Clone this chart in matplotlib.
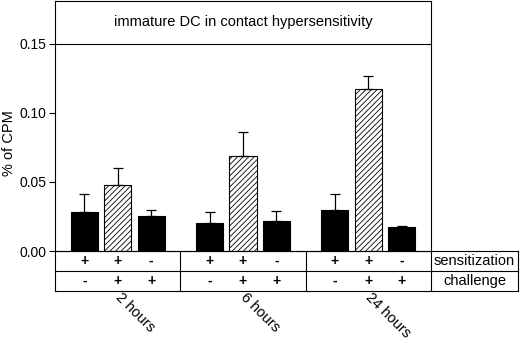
import matplotlib
matplotlib.use("Agg")
import matplotlib.pyplot as plt
import matplotlib.transforms as mtransforms

plt.rcParams['font.family'] = ['Liberation Sans', 'DejaVu Sans']
plt.rcParams['hatch.linewidth'] = 0.6

# data
groups = ['2 hours', '6 hours', '24 hours']
values = [[0.028, 0.048, 0.025],
          [0.0205, 0.069, 0.0217],
          [0.0295, 0.117, 0.0172]]
errors = [[0.013, 0.012, 0.005],
          [0.008, 0.017, 0.007],
          [0.0115, 0.010, 0.0011]]
sensitization = ['+', '+', '-']
challenge = ['-', '+', '+']
title = 'immature DC in contact hypersensitivity'

fig = plt.figure(figsize=(5.2, 3.48), dpi=100)
ax = fig.add_axes([0.1058, 0.2787, 0.7230, 0.7183])

offsets = [-0.8, 0.0, 0.8]
width = 0.65
for g in range(len(groups)):
    c = g * 3 + 1.5
    for k in range(3):
        x = c + offsets[k]
        hatched = (k == 1)
        ax.bar(x, values[g][k], width=width,
               color='white' if hatched else 'black',
               edgecolor='black', linewidth=0.8,
               hatch='//////' if hatched else None, zorder=2)
        ax.errorbar(x, values[g][k], yerr=[[0], [errors[g][k]]],
                    fmt='none', ecolor='black', elinewidth=0.9,
                    capsize=3.8, capthick=0.9, zorder=3)

ax.set_xlim(0, 9)
ax.set_ylim(0, 0.181)
ax.set_yticks([0.0, 0.05, 0.10, 0.15])
ax.set_yticklabels(['0.00', '0.05', '0.10', '0.15'], fontsize=10)
ax.tick_params(axis='y', direction='out', length=4.3, width=0.8, pad=2)
ax.set_xticks([])
for s in ax.spines.values():
    s.set_linewidth(0.8)
ax.set_ylabel('% of CPM', fontsize=10.5)
ax.yaxis.set_label_coords(-0.103, 0.43)

# title box inside the top of the plot
ax.axhline(0.15, color='black', linewidth=0.8)
ax.text(4.5, 0.1655, title, ha='center', va='center', fontsize=10.5)

# table below the axis
tr = mtransforms.blended_transform_factory(ax.transData, ax.transAxes)
rh = 0.08
xr = 11.08
lkw = dict(color='black', linewidth=0.8, transform=tr, clip_on=False)
ax.plot([0, xr], [0, 0], **lkw)
ax.plot([0, xr], [-rh, -rh], **lkw)
ax.plot([0, xr], [-2 * rh, -2 * rh], **lkw)
ax.plot([xr, xr], [0, -2 * rh], **lkw)
for xv in [0, 3, 6, 9]:
    ax.plot([xv, xv], [0, -2 * rh], **lkw)

for g in range(len(groups)):
    c = g * 3 + 1.5
    for k in range(3):
        x = c + offsets[k]
        ax.text(x, -rh / 2, sensitization[k], transform=tr, ha='center',
                va='center', fontsize=10, fontweight='bold')
        ax.text(x, -1.5 * rh, challenge[k], transform=tr, ha='center',
                va='center', fontsize=10, fontweight='bold')
    ax.text(c - 0.12, -2 * rh + 0.005, groups[g], transform=tr, ha='left',
            va='top', rotation=-45, fontsize=10.5)

ax.text((9 + xr) / 2, -rh / 2, 'sensitization', transform=tr,
        ha='center', va='center', fontsize=10.5)
ax.text((9 + xr) / 2, -1.5 * rh, 'challenge', transform=tr,
        ha='center', va='center', fontsize=10.5)

fig.savefig('out.png', dpi=100)
